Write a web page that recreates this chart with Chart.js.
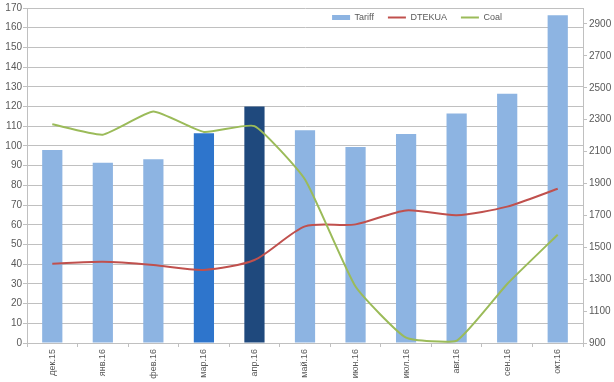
<!DOCTYPE html>
<html>
<head>
<meta charset="utf-8">
<script src="https://cdn.jsdelivr.net/npm/chart.js@4/dist/chart.umd.min.js"></script>
<style>
html,body{margin:0;padding:0;background:#fff;}
#wrap{width:614px;height:382px;position:relative;}
</style>
</head>
<body>
<div id="wrap"><canvas id="c" width="614" height="382"></canvas></div>
<script>
const categories = ['дек.15','янв.16','фев.16','мар.16','апр.16','май.16','июн.16','июл.16','авг.16','сен.16','окт.16'];
const tariff = [98, 91.5, 93.3, 106.5, 120, 108, 99.5, 106, 116.5, 126.5, 166.3];
const dtekua = [40.2, 41.2, 39.6, 37.1, 42.1, 59.2, 60.2, 67.3, 64.8, 69.2, 78.3];
const coal = [2271, 2206, 2351, 2223, 2260, 1925, 1254, 933, 914, 1270, 1579];
const leftTicks = {min: 0, max: 170, step: 10};
const rightTickValues = [900, 1100, 1300, 1500, 1700, 1900, 2100, 2300, 2500, 2700, 2900];
const rightRange = {min: 900, max: 3000};

const LIGHT = '#8DB4E2';
const barColors = categories.map((c, i) => i === 3 ? '#2E75CC' : (i === 4 ? '#1F497D' : LIGHT));
const TXT = '#595959';
const GRID = '#C0C0C0';
const FONT = 'Liberation Sans, Arial, sans-serif';
const LEG_PAD = 14;

const legendShift = {
  id: 'legendShift',
  beforeLayout(chart) {
    if (chart.legend) chart.legend.isHorizontal = () => true;
  },
  afterLayout(chart) {
    const lg = chart.legend;
    if (!lg) return;
    const lw = lg.lineWidths && lg.lineWidths[0] ? lg.lineWidths[0] : 160;
    const left = 417 - (lw + LEG_PAD) / 2;
    lg.left = left; lg.right = left + lw + LEG_PAD; lg.width = lw + LEG_PAD;
    lg.top -= 9; lg.bottom = lg.top + lg.height;
  }
};

new Chart(document.getElementById('c'), {
  data: {
    labels: categories,
    datasets: [
      {type: 'line', label: 'DTEKUA', data: dtekua, yAxisID: 'y', borderColor: '#C0504D', backgroundColor: '#C0504D', borderWidth: 2, pointRadius: 0, tension: 0.25, order: 1},
      {type: 'line', label: 'Coal', data: coal, yAxisID: 'y1', borderColor: '#9BBB59', backgroundColor: '#9BBB59', borderWidth: 2, pointRadius: 0, tension: 0.15, order: 0},
      {type: 'bar', label: 'Tariff', data: tariff, yAxisID: 'y', backgroundColor: barColors, borderWidth: 0, barPercentage: 0.8, categoryPercentage: 0.5, order: 2}
    ]
  },
  options: {
    responsive: false,
    animation: false,
    layout: {padding: {top: 3, left: 0, right: 0, bottom: 0}},
    plugins: {
      tooltip: {enabled: false},
      legend: {
        position: 'chartArea',
        align: 'center',
        labels: {
          color: TXT,
          font: {family: FONT, size: 9},
          usePointStyle: true,
          pointStyleWidth: 18,
          boxHeight: 5,
          padding: LEG_PAD,
          sort: (a, b) => {
            const ord = {'Tariff': 0, 'DTEKUA': 1, 'Coal': 2};
            return ord[a.text] - ord[b.text];
          },
          generateLabels(chart) {
            const items = Chart.defaults.plugins.legend.labels.generateLabels(chart);
            items.forEach(it => {
              if (it.text === 'Tariff') {
                it.pointStyle = 'rect'; it.fillStyle = LIGHT; it.strokeStyle = LIGHT; it.lineWidth = 0;
              } else {
                it.pointStyle = 'line'; it.lineWidth = 2;
              }
            });
            return items;
          }
        }
      }
    },
    scales: {
      x: {
        offset: true,
        grid: {display: true, offset: true, drawOnChartArea: false, color: GRID, tickLength: 4},
        border: {display: true, color: GRID},
        ticks: {color: TXT, font: {family: FONT, size: 9}, minRotation: 90, maxRotation: 90, padding: 2, autoSkip: false},
        afterFit(s) { s.height = 39; }
      },
      y: {
        position: 'left',
        min: leftTicks.min, max: leftTicks.max,
        grid: {color: GRID, tickLength: 4},
        border: {display: true, color: GRID},
        ticks: {stepSize: leftTicks.step, color: TXT, font: {family: FONT, size: 10}, padding: 1},
        afterFit(s) { s.width = 27; }
      },
      y1: {
        position: 'right',
        min: rightRange.min, max: rightRange.max,
        grid: {drawOnChartArea: false, color: GRID, tickLength: 4},
        border: {display: true, color: GRID},
        ticks: {color: TXT, font: {family: FONT, size: 10}, padding: 2, callback: v => String(v)},
        afterBuildTicks(s) { s.ticks = rightTickValues.map(v => ({value: v})); },
        afterFit(s) { s.width = 31; }
      }
    }
  },
  plugins: [legendShift]
});
</script>
</body>
</html>
